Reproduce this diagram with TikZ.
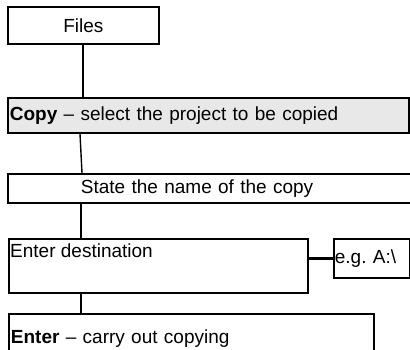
\documentclass[tikz,border=0pt]{standalone}
\usepackage{fontspec}
\setmainfont{Liberation Sans}
\begin{document}
\begin{tikzpicture}[x=1pt,y=-1pt,
  txt/.style={font=\fontsize{19}{22}\selectfont},
  boxstyle/.style={draw=black,line width=1.8pt,rectangle,inner sep=0pt,anchor=north west,txt},
  thick conn/.style={line width=2.6pt},
  thin conn/.style={line width=1.4pt}]
\useasboundingbox (0,0) rectangle (410,350);
\clip (0,0) rectangle (410,350);
\node[boxstyle,minimum width=151pt,minimum height=37pt] (files) at (7,6) {Files};
\node[boxstyle,fill=black!9,minimum width=401pt,minimum height=35pt,text width=397pt,align=left] (copy) at (7,97) {\textbf{Copy} -- select the project to be copied};
\node[boxstyle,minimum width=420pt,minimum height=29pt,text width=414pt,align=left] (state) at (7,173) {\hspace*{70pt}State the name of the copy};
\node[boxstyle,minimum width=299pt,minimum height=54pt] (dest) at (8,238) {};
\node[anchor=base west,inner sep=0pt,txt] (desttext) at (10,258) {Enter destination};
\node[boxstyle,minimum width=76pt,minimum height=39pt,text width=74pt,align=left] (eg) at (333,238) {e.g.\ A:\textbackslash};
\node[boxstyle,minimum width=365pt,minimum height=50pt,text width=361pt,align=left] (enter) at (8,313) {\textbf{Enter} -- carry out copying\\[10pt]};
\draw[thick conn] (files.south -| 83,0) -- (copy.north -| 83,0);
\draw[thin conn] (copy.south -| 80,0) -- (state.north -| 82,0);
\draw[thick conn] (state.south -| 81,0) -- (dest.north -| 81,0);
\draw[thick conn] (dest.east |- eg.west) -- (eg.west);
\draw[thick conn] (dest.south -| 81,0) -- (enter.north -| 81,0);
\end{tikzpicture}
\end{document}
